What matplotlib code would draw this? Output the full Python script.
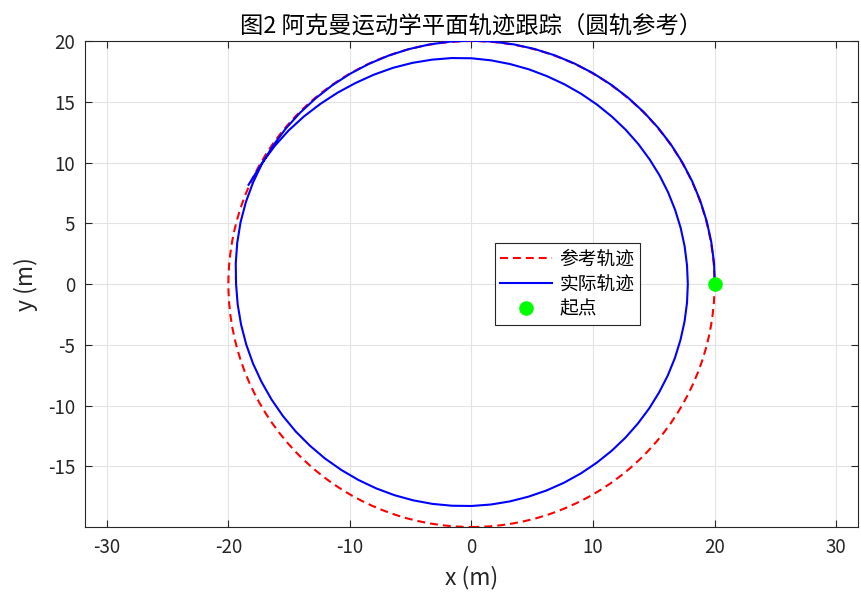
import numpy as np
import matplotlib
matplotlib.use('Agg')
import matplotlib.pyplot as plt
from matplotlib.patches import Circle
from matplotlib.lines import Line2D

plt.rcParams['font.family'] = ['Noto Sans CJK SC', 'DejaVu Sans']
plt.rcParams['axes.unicode_minus'] = False

# Reference circle
ref_center = (0.0, 0.0)
ref_radius = 20.0

# Actual vehicle path, polar samples (angle in degrees, radius in m)
path_theta = [0, 5, 10, 15, 20, 25, 30, 35, 40, 45, 50, 55, 60, 65, 70, 75,
              80, 85, 90, 95, 100, 105, 110, 115, 120, 125, 130, 135, 140,
              145, 150, 155, 160, 165, 170, 175, 180, 185, 190, 195, 200, 205,
              210, 215, 220, 225, 230, 235, 240, 245, 250, 255, 260, 265, 270,
              275, 280, 285, 290, 295, 300, 305, 310, 315, 320, 325, 330, 335,
              340, 345, 350, 355, 360, 365, 370, 375, 380, 385, 390, 395, 400,
              405, 410, 415, 420, 425, 430, 435, 440, 445, 450, 455, 460, 465,
              470, 475, 480, 485, 490, 495, 500, 505, 510, 516]
path_r = [20.02, 20.03, 20.03, 20.03, 20.03, 20.03, 20.03, 20.03, 20.03, 20.03,
          20.03, 20.03, 20.03, 20.03, 20.03, 20.03, 20.03, 20.03, 20.03, 20.03,
          20.02, 20.01, 20.0, 19.99, 19.98, 19.97, 19.95, 19.94, 19.93, 19.91,
          19.88, 19.82, 19.75, 19.67, 19.57, 19.47, 19.37, 19.31, 19.25, 19.19,
          19.13, 19.06, 19.0, 18.94, 18.88, 18.81, 18.75, 18.68, 18.62, 18.56,
          18.5, 18.44, 18.38, 18.32, 18.27, 18.22, 18.17, 18.12, 18.08, 18.04,
          18.0, 17.96, 17.93, 17.9, 17.87, 17.85, 17.83, 17.82, 17.81, 17.8,
          17.8, 17.8, 17.8, 17.8, 17.81, 17.82, 17.83, 17.85, 17.87, 17.89,
          17.92, 17.95, 17.98, 18.02, 18.07, 18.13, 18.2, 18.29, 18.38, 18.48,
          18.58, 18.67, 18.75, 18.84, 18.93, 19.01, 19.1, 19.22, 19.35, 19.5,
          19.65, 19.78, 19.9, 20.08]

start_x = [20.0]
start_y = [0.0]

legend_labels = ['参考轨迹', '实际轨迹', '起点']

th = np.deg2rad(path_theta)
px = np.array(path_r) * np.cos(th)
py = np.array(path_r) * np.sin(th)

fig = plt.figure(figsize=(8.61, 5.92), dpi=100)
ax = fig.add_axes([0.0987, 0.1098, 0.8978, 0.8209])

dash = (0, (3.8, 2.4))
ref = Circle(ref_center, ref_radius, fill=False, edgecolor='#ff0000',
             linestyle=dash, linewidth=1.5, zorder=3)
ax.add_patch(ref)
ax.plot(px, py, color='#0000ff', linewidth=1.5, zorder=4,
        solid_joinstyle='round')
ax.plot(start_x, start_y, 'o', color='#00ff00', markersize=9.5, zorder=5)

ax.set_xlim(-31.8, 31.8)
ax.set_ylim(-20, 20)
ax.set_xticks(np.arange(-30, 31, 10))
ax.set_yticks(np.arange(-15, 21, 5))
ax.grid(True, color='#e3e3e3', linewidth=0.8)
ax.set_axisbelow(True)
ax.tick_params(direction='in', length=5, width=0.8, top=True, right=True,
               labelsize=13.5, pad=7, colors='#262626')
for s in ax.spines.values():
    s.set_color('#262626')
    s.set_linewidth(0.8)

ax.set_xlabel('x (m)', fontsize=16.5, color='#262626', labelpad=6)
ax.set_ylabel('y (m)', fontsize=16.5, color='#262626', labelpad=7)
ax.set_title('图2 阿克曼运动学平面轨迹跟踪（圆轨参考）', fontsize=16.8, pad=5)

handles = [
    Line2D([], [], color='#ff0000', linestyle=dash, linewidth=1.5),
    Line2D([], [], color='#0000ff', linewidth=1.5),
    Line2D([], [], color='#00ff00', marker='o', linestyle='none', markersize=9.5),
]
leg = ax.legend(handles, legend_labels, loc='upper left',
                bbox_to_anchor=(0.530, 0.584), fontsize=13.5, handlelength=2.75,
                handletextpad=0.42, labelspacing=0.2, borderpad=0.3,
                borderaxespad=0, fancybox=False, framealpha=1,
                edgecolor='#262626')
leg.get_frame().set_linewidth(0.8)

fig.savefig('out.png', dpi=100)
